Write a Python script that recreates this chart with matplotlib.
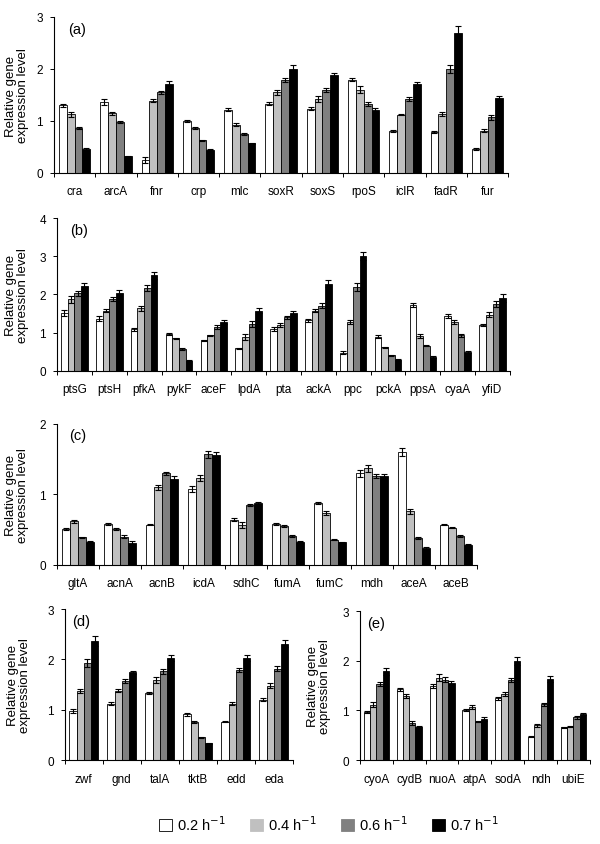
import numpy as np
import matplotlib
matplotlib.use("Agg")
import matplotlib.pyplot as plt
import matplotlib.transforms as mtransforms
from matplotlib.patches import Patch

plt.rcParams['font.family'] = ['Liberation Sans', 'DejaVu Sans']

rates = ['0.2 h$^{-1}$', '0.4 h$^{-1}$', '0.6 h$^{-1}$', '0.7 h$^{-1}$']
colors = ['white', '#c0c0c0', '#808080', 'black']

# panel (a)
genes_a = ['cra', 'arcA', 'fnr', 'crp', 'mlc', 'soxR', 'soxS', 'rpoS', 'iclR', 'fadR', 'fur']
vals_a = [[1.30, 1.37, 0.25, 1.00, 1.22, 1.33, 1.24, 1.79, 0.80, 0.78, 0.47],
          [1.13, 1.15, 1.39, 0.87, 0.93, 1.55, 1.43, 1.60, 1.12, 1.14, 0.81],
          [0.87, 0.98, 1.55, 0.63, 0.75, 1.79, 1.60, 1.33, 1.43, 2.00, 1.07],
          [0.47, 0.32, 1.72, 0.45, 0.57, 2.00, 1.88, 1.21, 1.72, 2.70, 1.44]]
errs_a = [[0.03, 0.06, 0.05, 0.02, 0.03, 0.03, 0.03, 0.03, 0.02, 0.02, 0.02],
          [0.05, 0.03, 0.03, 0.02, 0.03, 0.05, 0.06, 0.07, 0.01, 0.04, 0.03],
          [0.02, 0.02, 0.03, 0.01, 0.02, 0.04, 0.04, 0.04, 0.04, 0.08, 0.05],
          [0.02, 0.01, 0.04, 0.01, 0.01, 0.08, 0.05, 0.04, 0.03, 0.12, 0.04]]

# panel (b)
genes_b = ['ptsG', 'ptsH', 'pfkA', 'pykF', 'aceF', 'lpdA', 'pta', 'ackA', 'ppc', 'pckA', 'ppsA', 'cyaA', 'yfiD']
vals_b = [[1.52, 1.37, 1.09, 0.97, 0.80, 0.59, 1.10, 1.32, 0.48, 0.90, 1.73, 1.44, 1.20],
          [1.87, 1.58, 1.64, 0.85, 0.93, 0.89, 1.21, 1.58, 1.27, 0.62, 0.92, 1.28, 1.47],
          [2.03, 1.88, 2.18, 0.57, 1.15, 1.23, 1.40, 1.71, 2.20, 0.41, 0.66, 0.93, 1.74],
          [2.23, 2.03, 2.50, 0.27, 1.27, 1.58, 1.51, 2.28, 3.00, 0.29, 0.37, 0.49, 1.90]]
errs_b = [[0.07, 0.06, 0.04, 0.02, 0.02, 0.01, 0.05, 0.03, 0.03, 0.04, 0.06, 0.06, 0.03],
          [0.08, 0.05, 0.06, 0.02, 0.02, 0.07, 0.05, 0.05, 0.05, 0.01, 0.05, 0.05, 0.06],
          [0.07, 0.05, 0.08, 0.02, 0.04, 0.07, 0.05, 0.06, 0.10, 0.01, 0.02, 0.04, 0.08],
          [0.08, 0.10, 0.09, 0.01, 0.05, 0.07, 0.05, 0.09, 0.11, 0.01, 0.03, 0.02, 0.10]]

# panel (c)
genes_c = ['gltA', 'acnA', 'acnB', 'icdA', 'sdhC', 'fumA', 'fumC', 'mdh', 'aceA', 'aceB']
vals_c = [[0.51, 0.58, 0.57, 1.08, 0.64, 0.58, 0.88, 1.30, 1.60, 0.57],
          [0.62, 0.51, 1.10, 1.23, 0.57, 0.55, 0.74, 1.37, 0.76, 0.53],
          [0.39, 0.40, 1.30, 1.57, 0.85, 0.41, 0.36, 1.26, 0.38, 0.41],
          [0.33, 0.31, 1.22, 1.56, 0.88, 0.33, 0.32, 1.26, 0.24, 0.29]]
errs_c = [[0.01, 0.01, 0.01, 0.04, 0.02, 0.01, 0.01, 0.05, 0.06, 0.01],
          [0.02, 0.01, 0.03, 0.04, 0.04, 0.01, 0.03, 0.05, 0.04, 0.01],
          [0.01, 0.02, 0.02, 0.05, 0.02, 0.01, 0.01, 0.03, 0.01, 0.01],
          [0.01, 0.03, 0.04, 0.04, 0.01, 0.01, 0.01, 0.03, 0.01, 0.01]]

# panel (d)
genes_d = ['zwf', 'gnd', 'talA', 'tktB', 'edd', 'eda']
vals_d = [[0.97, 1.12, 1.34, 0.91, 0.76, 1.20],
          [1.37, 1.38, 1.59, 0.76, 1.12, 1.48],
          [1.93, 1.57, 1.76, 0.45, 1.78, 1.81],
          [2.37, 1.74, 2.02, 0.33, 2.02, 2.31]]
errs_d = [[0.04, 0.03, 0.02, 0.03, 0.01, 0.03],
          [0.04, 0.03, 0.06, 0.02, 0.03, 0.05],
          [0.08, 0.04, 0.05, 0.01, 0.04, 0.05],
          [0.10, 0.03, 0.06, 0.01, 0.06, 0.07]]

# panel (e)
genes_e = ['cyoA', 'cydB', 'nuoA', 'atpA', 'sodA', 'ndh', 'ubiE']
vals_e = [[0.96, 1.42, 1.50, 1.01, 1.24, 0.47, 0.66],
          [1.11, 1.28, 1.66, 1.07, 1.33, 0.70, 0.67],
          [1.53, 0.75, 1.62, 0.77, 1.62, 1.12, 0.86],
          [1.79, 0.67, 1.55, 0.82, 2.00, 1.64, 0.93]]
errs_e = [[0.02, 0.03, 0.04, 0.02, 0.03, 0.01, 0.01],
          [0.05, 0.04, 0.07, 0.04, 0.04, 0.03, 0.01],
          [0.04, 0.04, 0.05, 0.01, 0.04, 0.03, 0.03],
          [0.07, 0.01, 0.05, 0.04, 0.08, 0.06, 0.02]]


def draw_panel(ax, genes, vals, errs, ymax, label, label_x):
    n = len(genes)
    x = np.arange(n)
    w = 0.19
    for k in range(4):
        pos = x + (k - 1.5) * w
        ax.bar(pos, vals[k], w, color=colors[k], edgecolor='black', linewidth=0.6)
        ax.errorbar(pos, vals[k], yerr=errs[k], fmt='none', ecolor='black',
                    elinewidth=0.8, capsize=2.2, capthick=0.8)
    ax.set_xlim(-0.5, n - 0.5)
    ax.set_ylim(0, ymax)
    ax.set_yticks(range(ymax + 1))
    ax.set_xticks(np.arange(n + 1) - 0.5)
    ax.set_xticklabels([])
    ax.set_xticks(x, minor=True)
    ax.set_xticklabels(genes, minor=True)
    ax.tick_params(axis='x', which='major', length=3, width=0.7)
    ax.tick_params(axis='x', which='minor', length=0, labelsize=8.5, pad=9)
    ax.tick_params(axis='y', length=3, width=0.7, labelsize=8.5, pad=5)
    for s in ['top', 'right']:
        ax.spines[s].set_visible(False)
    for s in ['left', 'bottom']:
        ax.spines[s].set_linewidth(0.8)
    ax.set_ylabel('Relative gene\nexpression level', fontsize=9.5, linespacing=1.0)
    trans = mtransforms.blended_transform_factory(fig.transFigure, ax.transAxes)
    ax.yaxis.set_label_coords(label_x, 0.5, transform=trans)
    ax.yaxis.label.set_va('center')
    ax.text(0.03, 0.97, label, transform=ax.transAxes, fontsize=10.5, va='top', ha='left')


fig = plt.figure(figsize=(6, 8.45), dpi=100)
ax_a = fig.add_axes([0.090, 0.7941, 0.757, 0.1846])
ax_b = fig.add_axes([0.095, 0.5598, 0.755, 0.1810])
ax_c = fig.add_axes([0.095, 0.3302, 0.700, 0.1669])
ax_d = fig.add_axes([0.108, 0.0994, 0.380, 0.1787])
ax_e = fig.add_axes([0.600, 0.0994, 0.383, 0.1763])

draw_panel(ax_a, genes_a, vals_a, errs_a, 3, '(a)', 0.029)
draw_panel(ax_b, genes_b, vals_b, errs_b, 4, '(b)', 0.029)
draw_panel(ax_c, genes_c, vals_c, errs_c, 2, '(c)', 0.029)
draw_panel(ax_d, genes_d, vals_d, errs_d, 3, '(d)', 0.031)
draw_panel(ax_e, genes_e, vals_e, errs_e, 3, '(e)', 0.531)

handles = [Patch(facecolor=c, edgecolor='black' if c == 'white' else c, linewidth=0.6) for c in colors]
fig.legend(handles, rates, loc='center', bbox_to_anchor=(0.548, 0.024), ncol=4, frameon=False,
           fontsize=10.5, handlelength=0.9, handleheight=0.9, handletextpad=0.3, columnspacing=1.7)

fig.savefig('out.png', dpi=100)
